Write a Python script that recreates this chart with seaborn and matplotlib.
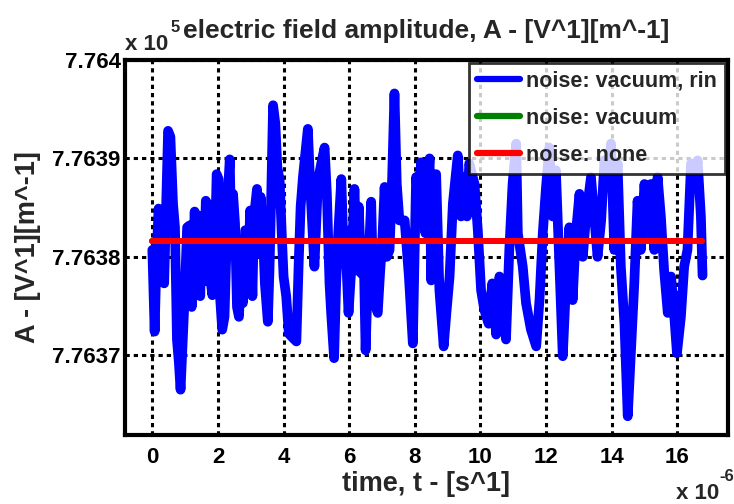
import matplotlib
matplotlib.use("Agg")
import matplotlib.pyplot as plt
import seaborn as sns
import pandas as pd

# ---- data (time in microseconds, amplitude in V/m) ----
t_rin = [0.00, 0.07, 0.12, 0.19, 0.27, 0.36, 0.48, 0.55, 0.63, 0.69, 0.75, 0.81, 0.86, 0.93, 0.99,
         1.06, 1.14, 1.20, 1.29, 1.36, 1.41, 1.46, 1.51, 1.57, 1.63, 1.71, 1.76, 1.83, 1.90, 1.96,
         2.02, 2.07, 2.13, 2.20, 2.26, 2.30, 2.36, 2.41, 2.46, 2.52, 2.58, 2.64, 2.71, 2.76, 2.83,
         2.89, 2.93, 2.98, 3.05, 3.10, 3.19, 3.25, 3.30, 3.37, 3.43, 3.52, 3.57, 3.62, 3.68, 3.75,
         3.81, 3.88, 3.94, 4.00, 4.08, 4.16, 4.24, 4.39, 4.46, 4.52, 4.59, 4.74, 4.81, 4.94, 5.05,
         5.15, 5.25, 5.32, 5.40, 5.45, 5.54, 5.60, 5.66, 5.76, 5.82, 5.87, 5.98, 6.08, 6.16, 6.24,
         6.29, 6.37, 6.44, 6.50, 6.57, 6.67, 6.74, 6.87, 6.94, 7.01, 7.08, 7.15, 7.23, 7.31, 7.38,
         7.45, 7.53, 7.69, 7.82, 7.94, 8.04, 8.12, 8.19, 8.32, 8.45, 8.50, 8.60, 8.65, 8.75, 8.88,
         8.97, 9.06, 9.16, 9.31, 9.41, 9.51, 9.59, 9.66, 9.82, 9.92, 10.02, 10.12, 10.25, 10.36, 10.48,
         10.58, 10.68, 10.78, 10.88, 10.98, 11.09, 11.14, 11.29, 11.39, 11.54, 11.70, 11.80, 11.90, 12.00, 12.10,
         12.20, 12.30, 12.41, 12.51, 12.61, 12.71, 12.81, 12.91, 13.02, 13.12, 13.22, 13.37, 13.47, 13.57, 13.68,
         13.78, 13.88, 13.98, 14.08, 14.18, 14.28, 14.39, 14.49, 14.59, 14.69, 14.79, 14.89, 15.00, 15.10, 15.20,
         15.30, 15.40, 15.50, 15.60, 15.71, 15.81, 15.91, 15.99, 16.11, 16.21, 16.31, 16.42, 16.52, 16.62, 16.72,
         16.77]
a_rin = [776380.7, 776372.4, 776379.0, 776384.9, 776384.1, 776377.3, 776392.8, 776392.2, 776385.4, 776383.0,
         776371.6, 776369.2, 776366.5, 776371.9, 776376.3, 776383.0, 776383.2, 776374.9, 776384.6, 776378.0,
         776384.2, 776376.0, 776384.1, 776377.5, 776385.7, 776385.2, 776378.0, 776376.1, 776379.7, 776388.4,
         776387.9, 776375.6, 776372.6, 776373.9, 776381.0, 776386.4, 776389.9, 776380.7, 776386.4, 776383.4,
         776374.9, 776373.9, 776379.3, 776375.3, 776382.7, 776382.4, 776378.6, 776384.7, 776376.0, 776384.1,
         776386.9, 776380.3, 776386.1, 776382.4, 776377.3, 776373.4, 776378.6, 776385.7, 776395.4, 776393.5,
         776389.1, 776387.8, 776382.7, 776378.0, 776376.0, 776372.2, 776371.9, 776371.4, 776379.3, 776385.1,
         776388.1, 776393.0, 776387.4, 776379.0, 776387.8, 776389.5, 776391.1, 776386.4, 776377.3, 776374.3,
         776369.7, 776377.0, 776382.0, 776387.9, 776381.4, 776382.7, 776374.3, 776379.7, 776386.9, 776378.6,
         776385.1, 776378.3, 776380.7, 776370.5, 776378.0, 776385.6, 776375.6, 776374.3, 776378.3, 776381.7,
         776387.1, 776380.0, 776380.7, 776388.1, 776396.6, 776387.4, 776383.7, 776383.7, 776378.0, 776371.2,
         776388.1, 776385.7, 776389.6, 776382.4, 776390.0, 776377.6, 776387.8, 776388.4, 776376.6, 776370.9,
         776374.6, 776378.0, 776385.4, 776390.3, 776384.1, 776388.1, 776384.1, 776389.5, 776387.4, 776382.7,
         776376.6, 776374.6, 776373.2, 776377.3, 776372.1, 776378.0, 776375.3, 776371.6, 776380.7, 776387.4,
         776391.5, 776382.4, 776379.0, 776375.3, 776372.6, 776370.9, 776375.6, 776382.4, 776387.1, 776391.1,
         776384.1, 776388.8, 776379.0, 776369.9, 776377.3, 776383.0, 776375.6, 776382.4, 776386.4, 776380.0,
         776384.1, 776388.1, 776384.1, 776380.0, 776383.7, 776389.8, 776387.4, 776391.5, 776380.7, 776389.5,
         776379.0, 776373.2, 776363.8, 776370.5, 776377.3, 776385.7, 776380.7, 776387.4, 776382.4, 776387.4,
         776380.7, 776388.1, 776384.1, 776378.6, 776374.3, 776378.0, 776373.9, 776370.2, 776373.9, 776379.0,
         776380.7, 776389.5, 776387.4, 776389.8, 776384.1, 776378.1]
t_flat = [0.0, 16.75]
a_vacuum = [776381.6, 776381.6]
a_none = [776381.6, 776381.6]

labels = ["noise: vacuum, rin", "noise: vacuum", "noise: none"]
colors = ["#0000ff", "#008000", "#ff0000"]
x_ticks = [0, 2, 4, 6, 8, 10, 12, 14, 16]
y_ticks = [776370, 776380, 776390, 776400]
y_tick_labels = ["7.7637", "7.7638", "7.7639", "7.764"]

title = "electric field amplitude, A - [V^1][m^-1]"
xlabel = "time, t - [s^1]"
ylabel = "A - [V^1][m^-1]"

# ---- style ----
sns.set_style("white")
plt.rcParams["font.family"] = ["Liberation Sans", "DejaVu Sans"]
plt.rcParams["font.weight"] = "bold"

fig = plt.figure(figsize=(7.34, 5.04), dpi=100)
ax = fig.add_axes([0.170, 0.137, 0.822, 0.744])

df_rin = pd.DataFrame({"t": t_rin, "a": a_rin})
df_vac = pd.DataFrame({"t": t_flat, "a": a_vacuum})
df_none = pd.DataFrame({"t": t_flat, "a": a_none})

sns.lineplot(data=df_rin, x="t", y="a", ax=ax, color=colors[0], lw=7.0,
             sort=False, estimator=None, label=labels[0], solid_joinstyle="round",
             solid_capstyle="round")
sns.lineplot(data=df_vac, x="t", y="a", ax=ax, color=colors[1], lw=4.3,
             sort=False, estimator=None, label=labels[1])
sns.lineplot(data=df_none, x="t", y="a", ax=ax, color=colors[2], lw=4.3,
             sort=False, estimator=None, label=labels[2])

ax.set_xlim(-0.84, 17.55)
ax.set_ylim(776361.9, 776400.0)
ax.set_xticks(x_ticks)
ax.set_xticklabels([str(v) for v in x_ticks])
ax.set_yticks(y_ticks)
ax.set_yticklabels(y_tick_labels)

ax.grid(True, color="black", linestyle=(0, (1.4, 1.3)), linewidth=2.2)
for s in ax.spines.values():
    s.set_visible(True)
    s.set_color("black")
    s.set_linewidth(3.0)
ax.tick_params(direction="in", length=5, width=2.5, labelsize=16, pad=3,
               top=False, right=False, colors="black")
ax.tick_params(axis="x", pad=9)
for lab in ax.get_xticklabels() + ax.get_yticklabels():
    lab.set_fontweight("bold")

ax.set_xlabel(xlabel, fontsize=19.5, fontweight="bold", labelpad=2)
ax.set_ylabel(ylabel, fontsize=19.5, fontweight="bold", labelpad=8)
ax.set_title(title, fontsize=19, fontweight="bold", pad=16)

leg = ax.legend(loc="upper right", fontsize=15.5, frameon=True, fancybox=False,
                handlelength=2.0, handletextpad=0.3, borderpad=0.35,
                labelspacing=0.75, borderaxespad=0.15)
leg.get_frame().set_edgecolor("black")
leg.get_frame().set_linewidth(2.0)
for txt in leg.get_texts():
    txt.set_fontweight("bold")
for h in leg.get_lines():
    h.set_linewidth(4.5)

# axis multipliers
fig.text(125 / 734, 1 - 50 / 504, "x 10", fontsize=16, fontweight="bold", ha="left", va="baseline")
fig.text(171 / 734, 1 - 32 / 504, "5", fontsize=12, fontweight="bold", ha="left", va="baseline")
fig.text(676 / 734, 1 - 499 / 504, "x 10", fontsize=16, fontweight="bold", ha="left", va="baseline")
fig.text(719 / 734, 1 - 481 / 504, "-6", fontsize=12, fontweight="bold", ha="left", va="baseline")

fig.savefig("out.png", dpi=100)
